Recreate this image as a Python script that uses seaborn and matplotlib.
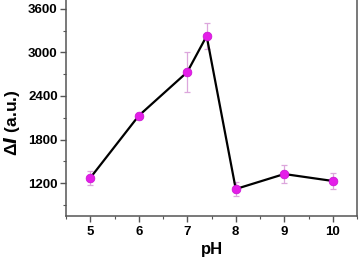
import matplotlib
matplotlib.use('Agg')
import matplotlib.pyplot as plt
from matplotlib.ticker import MultipleLocator
import seaborn as sns
import pandas as pd

# data
ph = [5, 6, 7, 7.4, 8, 9, 10]
delta_i = [1270, 2128, 2730, 3227, 1117, 1324, 1228]
err = [95, 40, 280, 180, 100, 130, 110]

df = pd.DataFrame({'pH': ph, 'dI': delta_i})

sns.set_style('ticks')
plt.rcParams['font.family'] = ['Liberation Sans', 'DejaVu Sans']
plt.rcParams['font.weight'] = 'bold'
plt.rcParams['text.color'] = 'black'
plt.rcParams['axes.labelcolor'] = 'black'

fig = plt.figure(figsize=(3.61, 2.73), dpi=100)
ax = fig.add_axes([66 / 361, 57 / 273, 291 / 361, 216 / 273])

ax.errorbar(ph, delta_i, yerr=err, fmt='none', ecolor='#dca6dc',
            elinewidth=0.9, capsize=2, capthick=0.9, zorder=2)
sns.lineplot(data=df, x='pH', y='dI', ax=ax, color='black', linewidth=1.6,
             marker='o', markersize=6.3, markerfacecolor='#e41ee8',
             markeredgecolor='#c810d0', markeredgewidth=0.5, zorder=3)

ax.set_xlim(4.5, 10.5)
ax.set_ylim(745, 3724)
ax.xaxis.set_major_locator(MultipleLocator(1))
ax.xaxis.set_minor_locator(MultipleLocator(0.5))
ax.yaxis.set_minor_locator(MultipleLocator(300))
ax.set_yticks([1200, 1800, 2400, 3000, 3600])

for s in ['left', 'bottom', 'right']:
    ax.spines[s].set_color('#555555')
    ax.spines[s].set_linewidth(1.1)
ax.spines['top'].set_visible(False)

ax.tick_params(which='major', length=4, width=1, color='#555555',
               labelcolor='black', labelsize=9.5, pad=2)
ax.tick_params(axis='x', which='major', pad=3.5)
ax.tick_params(which='minor', length=2.5, width=0.8, color='#555555')
ax.tick_params(axis='y', which='both', right=False)

ax.set_xlabel('pH', fontsize=12, fontweight='bold', labelpad=2.5)
ax.set_ylabel('')
fig.text(12 / 361, 1 - 123 / 273, '\u0394$\\bf{\\it{I}}$ (a.u.)', rotation=90,
         ha='center', va='center', fontsize=12.5, fontweight='bold')

fig.savefig('out.png', dpi=100)
